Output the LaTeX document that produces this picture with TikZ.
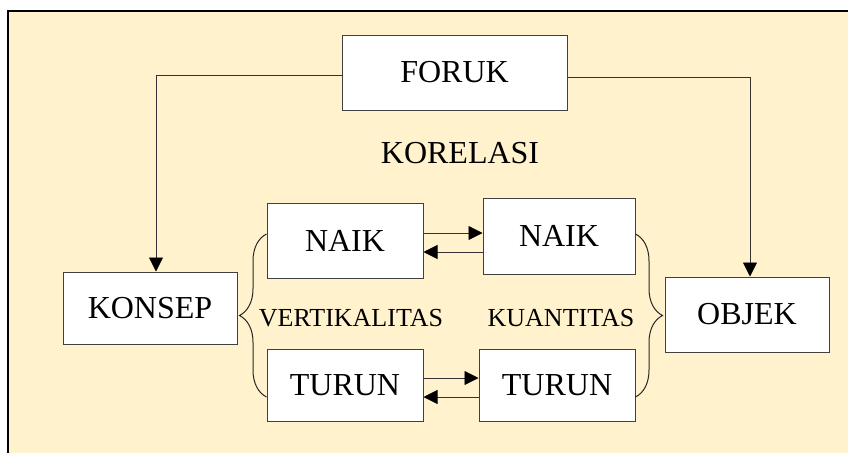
\documentclass[tikz,border=0pt]{standalone}
\usepackage{fontspec}
\setmainfont{Liberation Serif}
\usepackage{xcolor}
\usetikzlibrary{arrows.meta,decorations.pathreplacing}
\definecolor{cream}{HTML}{FFF2CC}
\definecolor{edge}{HTML}{404040}

\begin{document}
\begin{tikzpicture}[x=1pt,y=-1pt,
    box/.style={draw=edge,line width=1pt,fill=white,inner sep=0pt,font=\fontsize{32}{36}\selectfont},
    lbl/.style={inner sep=0pt,font=\fontsize{26}{30}\selectfont},
    arr/.style={-{Triangle[length=14pt,width=14pt,color=black]},draw=black!80,line width=0.8pt},
    brc/.style={decorate,decoration={brace,amplitude=27pt},draw=black!85,line width=1pt}]
    \useasboundingbox (0,0) rectangle (848,453);
    \fill[cream] (8,11) rectangle (848,453);
    \draw[line width=2pt] (8,453) -- (8,11) -- (848,11);
    % boxes
    \node[box,minimum width=225pt,minimum height=75pt] (foruk) at (454.5,72.5) {FORUK};
    \node[box,minimum width=174pt,minimum height=72pt] (konsep) at (150,308) {KONSEP};
    \node[box,minimum width=164pt,minimum height=75pt] (objek) at (747,314.5) {OBJEK};
    \node[box,minimum width=156pt,minimum height=75pt] (naikL) at (345,240.5) {NAIK};
    \node[box,minimum width=152pt,minimum height=76pt] (naikR) at (559,236) {NAIK};
    \node[box,minimum width=156pt,minimum height=72pt] (turunL) at (345,385) {TURUN};
    \node[box,minimum width=156pt,minimum height=72pt] (turunR) at (557,385) {TURUN};
    % labels
    \node[lbl,font=\fontsize{32}{36}\selectfont] (korelasi) at (460,153) {KORELASI};
    \node[lbl] (vert) at (351,318) {VERTIKALITAS};
    \node[lbl] (kuan) at (561,318) {KUANTITAS};
    % connectors
    \draw[arr] ([yshift=-2.5pt]foruk.west) -| ([xshift=6pt]konsep.north);
    \draw[arr] ([yshift=-4.5pt]foruk.east) -| ([xshift=3pt]objek.north);
    \draw[arr] ([yshift=7.5pt]naikL.east) -- ([yshift=7.5pt]naikL.east -| naikR.west);
    \draw[arr] ([yshift=-11.5pt]naikL.east -| naikR.west) -- ([yshift=-11.5pt]naikL.east);
    \draw[arr] ([yshift=7pt]turunL.east) -- ([yshift=7pt]turunL.east -| turunR.west);
    \draw[arr] ([yshift=-12pt]turunL.east -| turunR.west) -- ([yshift=-12pt]turunL.east);
    % braces
    \draw[brc] ([yshift=-12pt]turunL.west) -- ([yshift=6.5pt]naikL.west);
    \draw[brc] ([yshift=2pt]naikR.east) -- ([yshift=-12pt]turunR.east);
\end{tikzpicture}
\end{document}
